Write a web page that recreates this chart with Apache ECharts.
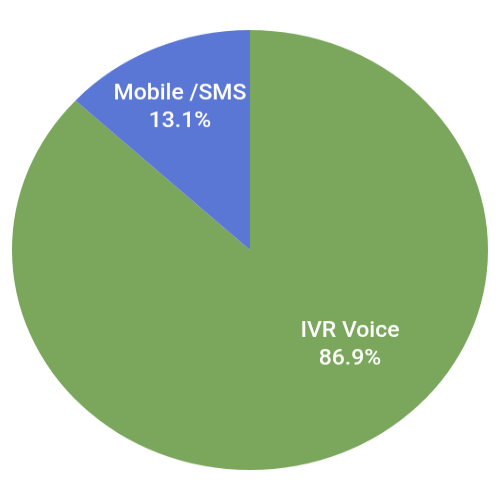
<!DOCTYPE html>
<html>
<head>
<meta charset="utf-8">
<script src="https://cdn.jsdelivr.net/npm/echarts@6/dist/echarts.min.js"></script>
<style>
  html, body { margin: 0; padding: 0; background: #fff; }
  #main { width: 500px; height: 500px; transform: scaleY(0.924); transform-origin: 50% 50%; }
</style>
</head>
<body>
<div id="main"></div>
<script>
var categories = ['IVR Voice', 'Mobile /SMS'];
var values = [86.9, 13.1];
var colors = ['#7ba75c', '#5b77d6'];
// label anchor points (unscaled px)
var labelPos = [[350, 353], [180, 96]];

var seriesData = [];
for (var i = 0; i < categories.length; i++) {
    seriesData.push({ name: categories[i], value: values[i], itemStyle: { color: colors[i] } });
}

var option = {
    backgroundColor: '#fff',
    animation: false,
    series: [{
        type: 'pie',
        center: ['50%', '50%'],
        radius: 238,
        startAngle: 90,
        clockwise: true,
        itemStyle: { borderWidth: 0 },
        label: {
            show: true,
            position: 'inside',
            color: '#fff',
            fontFamily: 'Roboto',
            fontWeight: 500,
            fontSize: 23,
            lineHeight: 30,
            align: 'center',
            formatter: function (p) {
                return p.name + '\n' + p.value.toFixed(1) + '%';
            }
        },
        labelLayout: function (p) {
            var pos = labelPos[p.dataIndex];
            return { x: pos[0], y: pos[1], align: 'center', verticalAlign: 'middle' };
        },
        data: seriesData
    }]
};
var myChart = echarts.init(document.getElementById('main'));
myChart.setOption(option);
</script>
</body>
</html>
